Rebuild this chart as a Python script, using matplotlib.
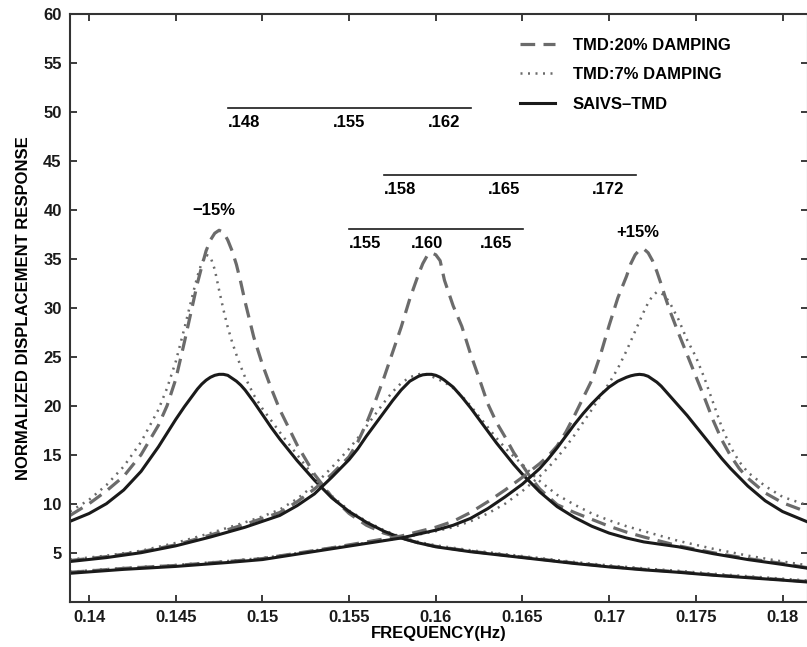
import matplotlib
matplotlib.use("Agg")
import matplotlib.pyplot as plt

plt.rcParams['font.family'] = ['Liberation Sans', 'DejaVu Sans']
plt.rcParams['font.weight'] = 'bold'

# ---------------- data ----------------
# left group (-15%)
x1 = [0.1389, 0.1400, 0.1410, 0.1420, 0.1430, 0.1440, 0.1445, 0.1450, 0.1455, 0.1460,
      0.14625, 0.1465, 0.14675, 0.1470, 0.14725, 0.1475, 0.14775, 0.1480, 0.14825, 0.1485,
      0.14875, 0.1490, 0.1495, 0.1500, 0.1505, 0.1510, 0.1520, 0.1530, 0.1540, 0.1550,
      0.1560, 0.1570, 0.1580, 0.1590, 0.1600, 0.1620, 0.1640, 0.1660, 0.1680, 0.1700,
      0.1720, 0.1740, 0.1760, 0.1780, 0.1800, 0.1815]
g1_saivs = [8.2, 9.0, 10.0, 11.4, 13.3, 15.8, 17.2, 18.6, 19.9, 21.1,
            21.7, 22.2, 22.6, 22.9, 23.1, 23.2, 23.2, 23.1, 22.8, 22.5,
            22.1, 21.6, 20.4, 19.1, 17.8, 16.6, 14.4, 12.4, 10.6, 9.2,
            8.1, 7.2, 6.5, 6.0, 5.6, 5.1, 4.7, 4.3, 3.9, 3.55,
            3.25, 3.0, 2.7, 2.45, 2.2, 2.0]
g1_tmd20 = [8.8, 10.0, 11.3, 12.8, 15.0, 18.0, 20.0, 22.7, 26.5, 30.5,
            32.5, 34.2, 35.8, 36.9, 37.6, 37.9, 37.7, 36.9, 35.8, 34.4,
            32.6, 30.6, 27.0, 24.2, 21.8, 19.6, 16.0, 13.0, 10.7, 9.0,
            7.8, 7.0, 6.5, 6.0, 5.65, 5.15, 4.75, 4.35, 3.95, 3.6,
            3.3, 3.05, 2.75, 2.5, 2.25, 2.05]
g1_tmd7 = [9.2, 10.4, 11.9, 13.8, 16.3, 19.6, 21.8, 24.5, 27.9, 31.5,
           33.2, 34.6, 35.4, 35.2, 33.9, 31.8, 29.8, 28.0, 26.5, 25.2,
           24.0, 22.9, 21.1, 19.7, 18.5, 17.3, 15.0, 12.7, 10.8, 9.3,
           8.2, 7.3, 6.6, 6.1, 5.75, 5.25, 4.85, 4.45, 4.05, 3.7,
           3.4, 3.15, 2.85, 2.6, 2.35, 2.15]

# centre group
x2 = [0.1389, 0.1410, 0.1430, 0.1450, 0.1470, 0.1490, 0.1500, 0.1510, 0.1520, 0.1530,
      0.1540, 0.1550, 0.1555, 0.1560, 0.1565, 0.1570, 0.1575, 0.1580, 0.1585, 0.1590,
      0.15925, 0.1595, 0.15975, 0.1600, 0.16025, 0.1605, 0.1610, 0.1615, 0.1620, 0.1625,
      0.1630, 0.1635, 0.1640, 0.1645, 0.1650, 0.1655, 0.1660, 0.1670, 0.1680, 0.1690,
      0.1700, 0.1710, 0.1720, 0.1740, 0.1760, 0.1780, 0.1800, 0.1815]
g2_saivs = [4.1, 4.5, 5.0, 5.7, 6.6, 7.6, 8.2, 8.8, 9.8, 11.0,
            12.7, 14.5, 15.6, 16.9, 18.1, 19.3, 20.5, 21.6, 22.5, 23.0,
            23.15, 23.2, 23.2, 23.1, 22.9, 22.6, 21.9, 20.9, 19.8, 18.6,
            17.4, 16.2, 15.1, 14.0, 13.0, 12.1, 11.2, 9.7, 8.6, 7.7,
            7.0, 6.5, 6.1, 5.6, 4.9, 4.3, 3.8, 3.4]
g2_tmd20 = [4.2, 4.6, 5.1, 5.8, 6.8, 7.9, 8.5, 9.1, 10.2, 11.5,
            13.0, 14.8, 16.3, 18.2, 20.4, 22.8, 25.4, 28.0, 30.9, 33.4,
            34.5, 35.3, 35.6, 35.4, 34.8, 32.8, 30.2, 28.1, 25.3, 22.8,
            20.2, 18.3, 16.8, 15.2, 13.9, 12.6, 11.5, 9.9, 9.1, 8.4,
            7.7, 7.1, 6.6, 5.7, 5.0, 4.4, 3.9, 3.45]
g2_tmd7 = [4.3, 4.7, 5.2, 6.0, 7.0, 8.1, 8.7, 9.4, 10.5, 11.9,
           13.7, 15.6, 16.7, 17.9, 19.1, 20.3, 21.4, 22.3, 22.9, 23.2,
           23.3, 23.2, 23.0, 22.8, 22.6, 22.4, 21.8, 21.0, 20.0, 18.9,
           17.8, 16.7, 15.7, 14.8, 14.0, 13.1, 12.3, 10.9, 9.9, 9.0,
           8.3, 7.7, 7.2, 6.2, 5.4, 4.7, 4.1, 3.7]

# right group (+15%)
x3 = [0.1389, 0.1420, 0.1450, 0.1480, 0.1500, 0.1520, 0.1540, 0.1560, 0.1580, 0.1600,
      0.1610, 0.1620, 0.1630, 0.1640, 0.1650, 0.1660, 0.1665, 0.1670, 0.1675, 0.1680,
      0.1685, 0.1690, 0.1695, 0.1700, 0.1705, 0.1710, 0.17125, 0.1715, 0.17175, 0.1720,
      0.17225, 0.1725, 0.17275, 0.1730, 0.17325, 0.1735, 0.1740, 0.1745, 0.1750, 0.1755,
      0.1760, 0.1765, 0.1770, 0.1775, 0.1780, 0.1790, 0.1800, 0.1815]
g3_saivs = [2.9, 3.3, 3.6, 4.0, 4.3, 4.85, 5.4, 5.95, 6.5, 7.3,
            7.8, 8.5, 9.5, 10.7, 12.0, 13.6, 14.6, 15.7, 16.9, 18.1,
            19.2, 20.2, 21.1, 21.9, 22.5, 22.9, 23.05, 23.15, 23.2, 23.15,
            23.0, 22.7, 22.4, 22.0, 21.5, 21.0, 20.0, 19.0, 17.9, 16.8,
            15.7, 14.6, 13.6, 12.7, 11.8, 10.3, 9.2, 8.1]
g3_tmd20 = [3.0, 3.4, 3.7, 4.1, 4.4, 4.95, 5.5, 6.1, 6.7, 7.6,
            8.2, 9.1, 10.2, 11.4, 12.7, 14.1, 14.9, 15.9, 17.3, 19.0,
            20.8, 22.6, 25.2, 28.2, 31.0, 33.2, 34.5, 35.4, 35.9, 36.0,
            35.6, 34.8, 33.7, 32.4, 31.0, 29.7, 27.4, 25.2, 23.0, 20.8,
            18.5, 16.5, 14.9, 13.6, 12.6, 11.1, 10.1, 9.1]
g3_tmd7 = [3.05, 3.45, 3.75, 4.15, 4.45, 4.95, 5.5, 6.0, 6.5, 7.2,
           7.6, 8.2, 9.0, 10.0, 11.3, 12.8, 13.7, 14.7, 15.8, 17.0,
           18.3, 19.6, 21.0, 22.3, 23.8, 25.6, 26.6, 27.6, 28.6, 29.6,
           30.5, 31.2, 31.6, 31.5, 31.1, 30.5, 28.8, 26.7, 25.0, 22.8,
           20.3, 17.8, 15.8, 14.3, 13.2, 11.8, 10.7, 9.8]

series_names = ['TMD:20% DAMPING', 'TMD:7% DAMPING', 'SAIVS\u2013TMD']

# secondary frequency scales drawn inside the plot: (x start, x end, y)
scale_bars = [(0.14802, 0.16203, 50.4), (0.15701, 0.17153, 43.5), (0.1550, 0.16504, 38.0)]
scale_labels = [['.148', '.155', '.162'], ['.158', '.165', '.172'], ['.155', '.160', '.165']]
scale_label_x = [[0.14802, 0.15405, 0.15955], [0.15701, 0.16303, 0.16903], [0.1550, 0.15857, 0.16255]]
peak_notes = ['\u221215%', '+15%']

x_ticks = [0.14, 0.145, 0.15, 0.155, 0.16, 0.165, 0.17, 0.175, 0.18]
x_tick_labels = ['0.14', '0.145', '0.15', '0.155', '0.16', '0.165', '0.17', '0.175', '0.18']
y_ticks = [5, 10, 15, 20, 25, 30, 35, 40, 45, 50, 55, 60]

# ---------------- figure ----------------
fig = plt.figure(figsize=(8.07, 6.47), dpi=100)
ax = fig.add_axes([70 / 807, 45.3 / 647, 738 / 807, 588 / 647])

dash_style = dict(color='#6b6b6b', lw=2.3, linestyle=(0, (4.6, 2.6)))
dot_style = dict(color='#6a6a6a', lw=1.8, linestyle=(0, (0.8, 2.2)))
solid_style = dict(color='#1a1a1a', lw=2.2, linestyle='-')

groups = [(x1, g1_tmd20, g1_tmd7, g1_saivs),
          (x2, g2_tmd20, g2_tmd7, g2_saivs),
          (x3, g3_tmd20, g3_tmd7, g3_saivs)]
for i, (xx, d20, d7, sv) in enumerate(groups):
    ax.plot(xx, d7, label=series_names[1] if i == 0 else None, **dot_style)
    ax.plot(xx, d20, label=series_names[0] if i == 0 else None, **dash_style)
    ax.plot(xx, sv, label=series_names[2] if i == 0 else None, **solid_style)

for (xa, xb, yy), labs, lxs in zip(scale_bars, scale_labels, scale_label_x):
    ax.plot([xa, xb], [yy, yy], color='#1a1a1a', lw=1.2)
    for lab, lx in zip(labs, lxs):
        ax.text(lx, yy - 0.7, lab, ha='left', va='top', fontsize=12, fontweight='bold')

ax.text(0.14722, 39.9, peak_notes[0], ha='center', va='center', fontsize=12, fontweight='bold')
ax.text(0.17166, 37.7, peak_notes[1], ha='center', va='center', fontsize=12, fontweight='bold')

ax.set_xlim(0.1389, 0.18147)
ax.set_ylim(0, 60)
ax.set_xticks(x_ticks)
ax.set_xticklabels(x_tick_labels)
ax.set_yticks(y_ticks)
ax.tick_params(direction='in', top=True, right=True, length=5, width=1.2,
               labelsize=12, pad=6, colors='#1a1a1a')
for lab in ax.get_xticklabels() + ax.get_yticklabels():
    lab.set_fontweight('bold')
for sp in ax.spines.values():
    sp.set_linewidth(1.5)
    sp.set_color('#333333')

ax.set_xlabel('FREQUENCY(Hz)', fontsize=12, fontweight='bold', labelpad=1)
ax.set_ylabel('NORMALIZED DISPLACEMENT RESPONSE', fontsize=12, fontweight='bold', labelpad=9)

handles, labels = ax.get_legend_handles_labels()
order = [labels.index(n) for n in series_names]
leg = ax.legend([handles[k] for k in order], [labels[k] for k in order],
                loc='upper left', bbox_to_anchor=(0.590, 0.985), frameon=False,
                handlelength=2.1, handletextpad=1.05, labelspacing=0.88,
                prop={'weight': 'bold', 'size': 12})

fig.savefig('out.png', dpi=100)
